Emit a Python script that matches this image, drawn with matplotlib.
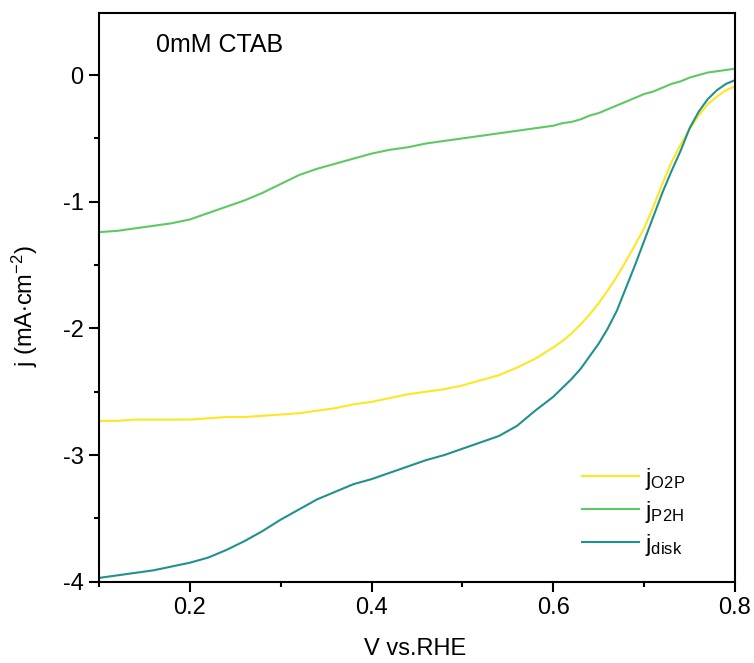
import numpy as np
import matplotlib
matplotlib.use("Agg")
from matplotlib import pyplot as plt
from matplotlib.ticker import MultipleLocator

plt.rcParams['font.family'] = ['Liberation Sans', 'DejaVu Sans']
plt.rcParams['mathtext.fontset'] = 'custom'
plt.rcParams['mathtext.rm'] = 'Liberation Sans'
plt.rcParams['mathtext.it'] = 'Liberation Sans'
plt.rcParams['axes.unicode_minus'] = False

# LSV sweep, 0mM CTAB
voltage = [0.10, 0.12, 0.14, 0.16, 0.18, 0.20, 0.22, 0.24, 0.26, 0.28,
           0.30, 0.32, 0.34, 0.36, 0.38, 0.40, 0.42, 0.44, 0.46, 0.48,
           0.50, 0.52, 0.54, 0.56, 0.58, 0.60, 0.61, 0.62, 0.63, 0.64,
           0.65, 0.66, 0.67, 0.68, 0.69, 0.70, 0.71, 0.72, 0.73, 0.74,
           0.75, 0.76, 0.77, 0.78, 0.79, 0.80]

j_o2p = [-2.73, -2.73, -2.72, -2.72, -2.72, -2.72, -2.71, -2.70, -2.70, -2.69,
         -2.68, -2.67, -2.65, -2.63, -2.60, -2.58, -2.55, -2.52, -2.50, -2.48,
         -2.45, -2.41, -2.37, -2.31, -2.24, -2.15, -2.10, -2.04, -1.97, -1.89,
         -1.80, -1.70, -1.59, -1.47, -1.34, -1.21, -1.04, -0.86, -0.69, -0.55,
         -0.43, -0.32, -0.23, -0.17, -0.12, -0.09]

j_p2h = [-1.24, -1.23, -1.21, -1.19, -1.17, -1.14, -1.09, -1.04, -0.99, -0.93,
         -0.86, -0.79, -0.74, -0.70, -0.66, -0.62, -0.59, -0.57, -0.54, -0.52,
         -0.50, -0.48, -0.46, -0.44, -0.42, -0.40, -0.38, -0.37, -0.35, -0.32,
         -0.30, -0.27, -0.24, -0.21, -0.18, -0.15, -0.13, -0.10, -0.07, -0.05,
         -0.02, 0.00, 0.02, 0.03, 0.04, 0.05]

j_disk = [-3.97, -3.95, -3.93, -3.91, -3.88, -3.85, -3.81, -3.75, -3.68, -3.60,
          -3.51, -3.43, -3.35, -3.29, -3.23, -3.19, -3.14, -3.09, -3.04, -3.00,
          -2.95, -2.90, -2.85, -2.77, -2.65, -2.54, -2.47, -2.40, -2.32, -2.22,
          -2.12, -2.00, -1.86, -1.68, -1.50, -1.31, -1.12, -0.93, -0.76, -0.60,
          -0.42, -0.29, -0.19, -0.12, -0.07, -0.04]

fig = plt.figure(figsize=(7.54, 6.63), dpi=100)
ax = fig.add_axes([0.1313, 0.1226, 0.8435, 0.8578])

ax.plot(voltage, j_o2p, color='#fde725', lw=1.5, label=r'j$_{\mathrm{O2P}}$')
ax.plot(voltage, j_p2h, color='#5ec962', lw=1.5, label=r'j$_{\mathrm{P2H}}$')
ax.plot(voltage, j_disk, color='#21918c', lw=1.5, label=r'j$_{\mathrm{disk}}$')

ax.set_xlim(0.1, 0.8)
ax.set_ylim(-4, 0.49)
ax.xaxis.set_major_locator(MultipleLocator(0.2))
ax.xaxis.set_minor_locator(MultipleLocator(0.1))
ax.yaxis.set_major_locator(MultipleLocator(1))
ax.yaxis.set_minor_locator(MultipleLocator(0.5))
ax.set_xticks([0.2, 0.4, 0.6, 0.8])

for s in ax.spines.values():
    s.set_linewidth(1.5)
ax.tick_params(which='major', direction='out', length=7, width=1.5, labelsize=17, pad=4)
ax.tick_params(which='minor', direction='out', length=3.5, width=1.5)

ax.set_xlabel('V vs.RHE', fontsize=17, va='center')
ax.set_ylabel(r'j (mA$\cdot$cm$^{-2}$)', fontsize=17, va='center')
ax.xaxis.set_label_coords(0.497, -0.118)
ax.yaxis.set_label_coords(-0.116, 0.485)

ax.text(0.09, 0.944, '0mM CTAB', transform=ax.transAxes, fontsize=18, va='center')

ax.legend(loc='lower right', bbox_to_anchor=(0.951, 0.009), frameon=False, fontsize=17,
          handlelength=2.4, handletextpad=0.25, labelspacing=0.3, borderaxespad=0.4)

fig.savefig('out.png', dpi=100)
